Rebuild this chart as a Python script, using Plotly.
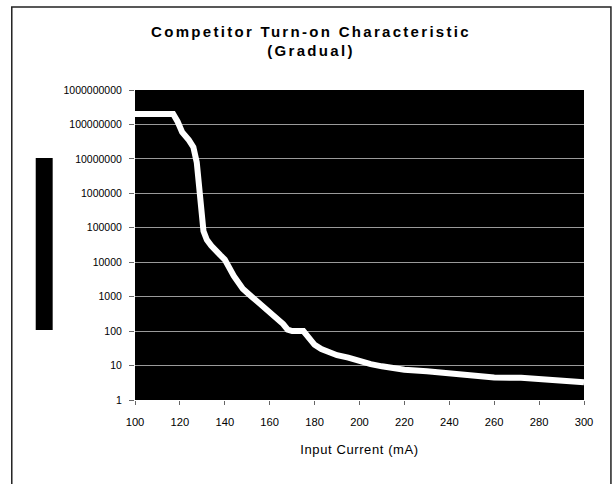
import plotly.graph_objects as go

# ---- data ----
current_ma = [100, 105, 110, 115, 117, 119, 121, 124, 126, 127.5, 128.5, 129.5, 130.5,
              132, 134, 138, 140, 144, 148, 152, 156, 160, 163, 166, 168, 170, 175,
              177, 180, 183, 186, 190, 195, 200, 205, 210, 220, 230, 240, 243, 250,
              255, 260, 272, 280, 290, 300]
turn_on = [2e8, 2e8, 2e8, 2e8, 2e8, 1.2e8, 6e7, 3.5e7, 2.2e7, 8e6, 1.5e6, 2.5e5, 8e4,
           4.5e4, 3e4, 1.6e4, 1.2e4, 4e3, 1.7e3, 1e3, 6e2, 3.5e2, 2.5e2, 1.6e2, 1.1e2, 1e2, 1e2,
           7e1, 4e1, 3e1, 2.5e1, 2e1, 1.7e1, 1.3e1, 1.1e1, 9.5, 7.6, 6.8, 6.0, 5.7, 5.1,
           5.0, 4.5, 4.4, 4.1, 3.7, 3.3]
y_tickvals = [1, 10, 100, 1000, 10000, 100000, 1000000, 10000000, 100000000, 1000000000]
y_ticktext = ["1", "10", "100", "1000", "10000", "100000", "1000000", "10000000",
              "100000000", "1000000000"]
x_tickvals = [100, 120, 140, 160, 180, 200, 220, 240, 260, 280, 300]

W, H = 613, 484
PLOT_L, PLOT_R, PLOT_T, PLOT_B = 134.5, 584.5, 90, 400   # window pixels
ML, MR, MT, MB = PLOT_L, W - PLOT_R, PLOT_T, H - PLOT_B
PW, PH = PLOT_R - PLOT_L, PLOT_B - PLOT_T


def px_x(p):
    return (p - PLOT_L) / PW


def px_y(p):
    return (PLOT_B - p) / PH


FONT = "Liberation Sans, Arial, sans-serif"

fig = go.Figure()
fig.add_trace(go.Scatter(x=current_ma, y=turn_on, mode="lines",
                         line=dict(color="white", width=6),
                         showlegend=False, hoverinfo="skip"))

fig.update_layout(
    width=W, height=H,
    margin=dict(l=ML, r=MR, t=MT, b=MB, pad=0),
    paper_bgcolor="white",
    plot_bgcolor="black",
    font=dict(family=FONT, color="black"),
    title=dict(
        text='<span style="letter-spacing:2.3px">Competitor Turn-on Characteristic</span><br>'
             '<span style="letter-spacing:2.3px">(Gradual)</span>',
        x=311 / W, xref="container", xanchor="center",
        y=1 - 36.5 / H, yref="container", yanchor="middle",
        font=dict(family=FONT, size=15, color="black", weight="bold"),
    ),
    xaxis=dict(
        range=[100, 300], tickvals=x_tickvals,
        showgrid=False, zeroline=False, showline=False,
        ticks="outside", ticklen=4, tickcolor="#666666", tickwidth=1,
        ticklabelstandoff=8,
        tickfont=dict(family=FONT, size=11.2, color="black"),
        title=dict(text='<span style="letter-spacing:0.6px">Input Current (mA)</span>',
                   font=dict(family=FONT, size=13, color="black"), standoff=17),
    ),
    yaxis=dict(
        type="log", range=[0, 9], tickvals=y_tickvals, ticktext=y_ticktext,
        showgrid=True, gridcolor="#9a9a9a", gridwidth=1,
        zeroline=False, showline=False,
        ticks="outside", ticklen=5, tickcolor="#666666", tickwidth=1,
        ticklabelstandoff=5,
        tickfont=dict(family=FONT, size=10.5, color="black"),
    ),
    shapes=[
        # outer chart border
        dict(type="rect", xref="paper", yref="paper",
             x0=px_x(11), x1=px_x(611.5), y0=px_y(495), y1=px_y(7),
             line=dict(color="#222222", width=1.5), fillcolor="rgba(0,0,0,0)", layer="below"),
        # y-axis title block (rendered as solid black box in the reference)
        dict(type="rect", xref="paper", yref="paper",
             x0=px_x(35), x1=px_x(52), y0=px_y(330), y1=px_y(158),
             line=dict(width=0), fillcolor="black"),
    ],
)

fig.write_html(
    "out.html",
    config={"displayModeBar": False},
    post_script="document.body.style.margin='0';document.body.style.overflow='hidden';",
)
